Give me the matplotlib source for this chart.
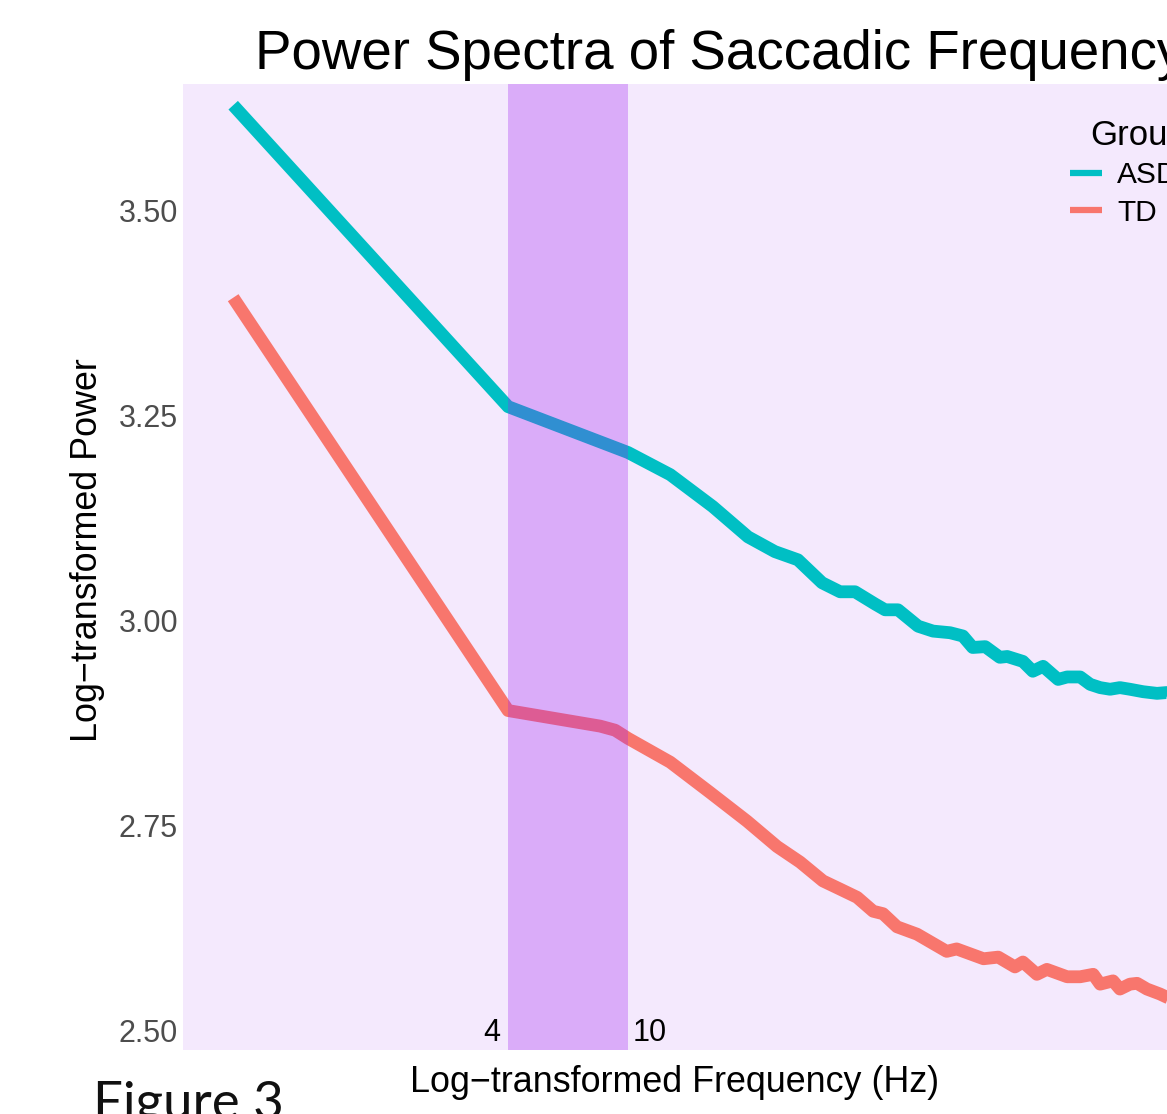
import matplotlib
matplotlib.use("Agg")
import matplotlib.pyplot as plt
from matplotlib.ticker import FixedLocator, FormatStrFormatter, NullLocator

W, H, DPI = 1167, 1114, 100

# ---- data ----
asd_freq = [0.49, 4.0, 10.0, 13.8, 19.1, 25.0, 30.7, 36.6, 44.0, 50.5, 56.6, 66.0,
            71.2, 78.6, 91.6, 102.7, 117, 129, 139, 153, 171, 181, 204, 220, 238,
            267, 286, 316, 341, 368, 397, 428, 462, 511, 568, 613, 678]
asd_power = [3.629, 3.261, 3.205, 3.178, 3.139, 3.102, 3.084, 3.074, 3.046, 3.035,
             3.035, 3.020, 3.013, 3.013, 2.993, 2.987, 2.985, 2.981, 2.967, 2.968,
             2.955, 2.956, 2.950, 2.938, 2.944, 2.928, 2.931, 2.931, 2.922, 2.918,
             2.916, 2.918, 2.916, 2.913, 2.911, 2.912, 2.907]
td_freq = [0.49, 4.0, 8.08, 9.06, 10.0, 13.8, 18.7, 24.8, 31.2, 37.2, 44.3, 50.5,
           57.5, 65.0, 70.1, 78.0, 90.9, 114, 123, 151, 169, 192, 204, 227, 245,
           286, 316, 349, 368, 406, 428, 462, 488, 526, 581, 613, 678]
td_power = [3.394, 2.890, 2.871, 2.866, 2.856, 2.827, 2.790, 2.755, 2.724, 2.705,
            2.682, 2.672, 2.662, 2.645, 2.642, 2.626, 2.617, 2.596, 2.599, 2.587,
            2.589, 2.577, 2.583, 2.568, 2.574, 2.565, 2.565, 2.568, 2.556, 2.560,
            2.550, 2.556, 2.557, 2.550, 2.544, 2.540, 2.534]
groups = ["ASD", "TD"]
group_colors = ["#00BFC4", "#F8766D"]
band = [4, 10]
band_labels = ["4", "10"]
y_ticks = [2.50, 2.75, 3.00, 3.25, 3.50]

plt.rcParams["font.family"] = ["Liberation Sans", "DejaVu Sans"]

fig = plt.figure(figsize=(W / DPI, H / DPI), dpi=DPI, facecolor="white")
# panel from x=183px to beyond the right edge (image is cropped)
left, right, top, bottom = 183, 1200, 84, 1050
ax = fig.add_axes([left / W, 1 - bottom / H, (right - left) / W, (bottom - top) / H])
ax.set_facecolor("#F4E9FD")
for s in ax.spines.values():
    s.set_visible(False)

ax.set_xscale("log")
ax.set_xlim(0.334, 789)
ax.set_ylim(2.4756, 3.6549)

lw = 9.2
ax.plot(asd_freq, asd_power, color=group_colors[0], lw=lw, label=groups[0],
        solid_capstyle="butt", solid_joinstyle="round", zorder=2)
ax.plot(td_freq, td_power, color=group_colors[1], lw=lw, label=groups[1],
        solid_capstyle="butt", solid_joinstyle="round", zorder=2)

ax.axvspan(band[0], band[1], color="#A020F0", alpha=0.3, lw=0, zorder=3)

ax.xaxis.set_major_locator(NullLocator())
ax.xaxis.set_minor_locator(NullLocator())
ax.yaxis.set_major_locator(FixedLocator(y_ticks))
ax.yaxis.set_major_formatter(FormatStrFormatter("%.2f"))
ax.tick_params(axis="y", length=0, pad=3.6, labelsize=22, labelcolor="#4D4D4D")

ax.annotate(band_labels[0], xy=(band[0], 2.5), xytext=(-5.5, -2), textcoords="offset points",
            ha="right", va="center", fontsize=22, color="black", zorder=5)
ax.annotate(band_labels[1], xy=(band[1], 2.5), xytext=(3, -2), textcoords="offset points",
            ha="left", va="center", fontsize=22, color="black", zorder=5)

ax.set_xlabel("Log\u2212transformed Frequency (Hz)", fontsize=25.8)
ax.xaxis.set_label_coords((675 - left) / (right - left), (bottom - 1082) / (bottom - top))
ax.xaxis.label.set_va("center")
ax.set_ylabel("Log\u2212transformed Power", fontsize=25.8)
ax.yaxis.set_label_coords((88 - left) / (right - left), (bottom - 550) / (bottom - top))
ax.yaxis.label.set_va("center")

fig.text(255 / W, 1 - 69 / H, "Power Spectra of Saccadic Frequency", fontsize=39.3,
         ha="left", va="baseline", color="black")

# legend
fig.text(1090 / W, 1 - 145 / H, "Group", fontsize=25, ha="left", va="baseline")
leg = ax.legend(loc="upper left", bbox_to_anchor=(1070 / W, 1 - 161 / H),
                bbox_transform=fig.transFigure, frameon=False, fontsize=21.5,
                handlelength=1.07, handletextpad=0.5, labelspacing=0.32,
                borderpad=0, borderaxespad=0)
for h in leg.legend_handles:
    h.set_linewidth(4.5)

fig.text(93 / W, 1 - 1119 / H, "Figure 3", fontsize=38, family=["Lato", "DejaVu Sans"],
         ha="left", va="baseline", color="#111111")

fig.savefig("out.png", dpi=DPI, facecolor="white")
